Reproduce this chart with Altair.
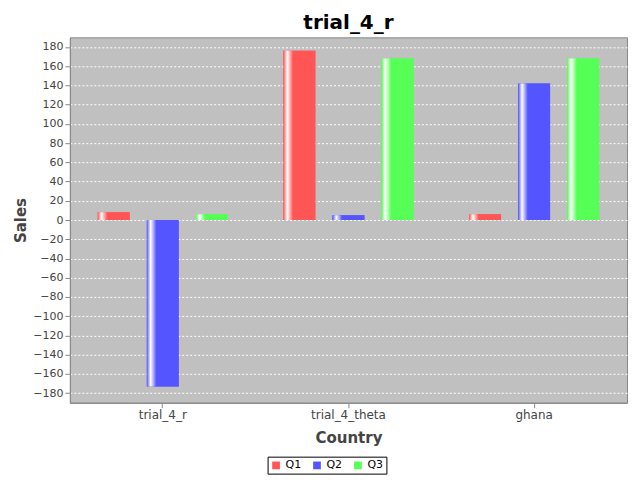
import altair as alt
import pandas as pd

countries = ["trial_4_r", "trial_4_theta", "ghana"]
series = ["Q1", "Q2", "Q3"]
q1 = [8, 176, 6]
q2 = [-173, 5, 142]
q3 = [6, 168, 168]
colors = ["#ff5555", "#5555ff", "#55ff55"]

rows = []
for i, c in enumerate(countries):
    for s, vals in zip(series, [q1, q2, q3]):
        rows.append({"Country": c, "Series": s, "Sales": vals[i]})
data = pd.DataFrame(rows)

x_enc = alt.X("Country:N", sort=countries, title="Country",
              scale=alt.Scale(paddingInner=0.3, paddingOuter=0.15),
              axis=alt.Axis(labelAngle=0, grid=False, titleFontSize=15, titleFontWeight="bold",
                            titleColor="#444444", labelFontSize=12, labelColor="#444444",
                            titlePadding=10, domainColor="#888888", tickColor="#888888"))
y_enc = alt.Y("Sales:Q", title="Sales",
              scale=alt.Scale(domain=[-190, 190], nice=False),
              axis=alt.Axis(values=list(range(-180, 181, 20)), gridColor="white", gridDash=[2, 2],
                            titleFontSize=15, titleFontWeight="bold", titleColor="#444444",
                            labelFontSize=11, labelColor="#444444", domainColor="#888888",
                            tickColor="#888888"))
off = alt.XOffset("Series:N", sort=series, scale=alt.Scale(domain=series, paddingInner=0.35))

base = alt.Chart(data).mark_bar().encode(
    x=x_enc, y=y_enc, xOffset=off,
    color=alt.Color("Series:N", scale=alt.Scale(domain=series, range=colors),
                    legend=alt.Legend(title=None, orient="none", legendX=198, legendY=420,
                                      direction="horizontal",
                                      symbolType="square", strokeColor="black", padding=3,
                                      labelFontSize=11, symbolSize=60)),
)

layers = [base]
for s, col in zip(series, colors):
    grad = alt.Gradient(gradient="linear", x1=0, x2=1, y1=0, y2=0,
                        stops=[alt.GradientStop(offset=0, color=col),
                               alt.GradientStop(offset=0.12, color="#ffffff"),
                               alt.GradientStop(offset=0.3, color=col),
                               alt.GradientStop(offset=1, color=col)])
    layers.append(alt.Chart(data).transform_filter(alt.datum.Series == s)
                  .mark_bar(fill=grad).encode(x=x_enc, y=y_enc, xOffset=off))

chart = alt.layer(*layers).properties(
    width=558, height=366,
    view=alt.ViewBackground(fill="#c0c0c0", stroke="#888888"),
    title=alt.TitleParams("trial_4_r", fontSize=20, fontWeight="bold", font="DejaVu Sans"),
).configure(font="DejaVu Sans")

chart.save("out.html", embed_options={"renderer": "svg", "actions": False})
